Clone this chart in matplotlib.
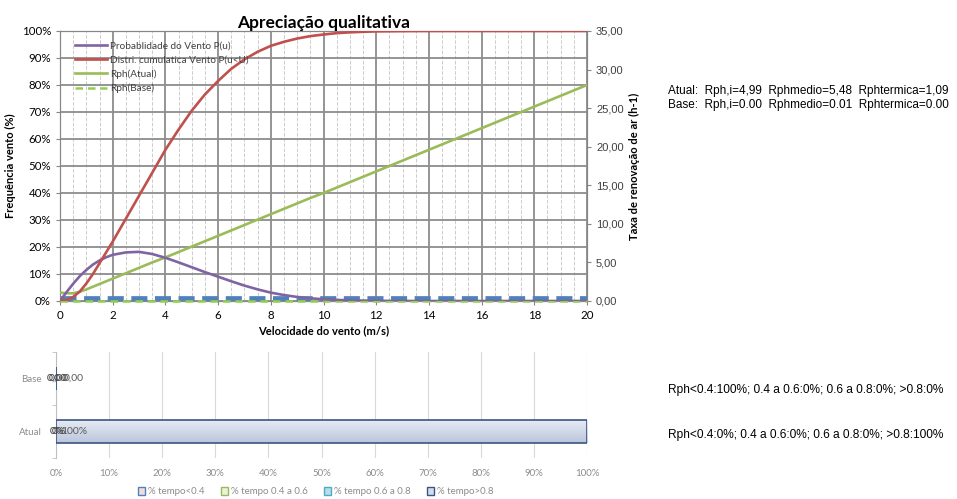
import numpy as np
import matplotlib
matplotlib.use("Agg")
import matplotlib.pyplot as plt
from matplotlib.ticker import FuncFormatter, MultipleLocator
from matplotlib.patches import Patch
from matplotlib.colors import LinearSegmentedColormap

plt.rcParams['font.family'] = ['Lato', 'DejaVu Sans']

# velocidade do vento (m/s)
vel = [0, 0.25, 0.5, 0.75, 1, 1.25, 1.5, 1.75, 2, 2.5, 3, 3.5, 4, 4.5, 5, 5.5, 6, 6.5, 7, 7.5,
       8, 8.5, 9, 9.5, 10, 10.5, 11, 11.5, 12, 13, 14, 15, 16, 17, 18, 19, 20]
# probabilidade do vento P(u) (%)
prob = [0, 3.3, 6.4, 9.2, 11.5, 13.5, 15.0, 16.2, 17.1, 18.0, 18.2, 17.4, 16.0, 14.3, 12.5, 10.7,
        9.0, 7.3, 5.7, 4.3, 3.1, 2.2, 1.5, 1.0, 0.65, 0.4, 0.25, 0.15, 0.08, 0.02,
        0, 0, 0, 0, 0, 0, 0]
# distribuicao cumulativa P(u<U) (%)
cdf = [0, 0.3, 1.5, 3.5, 6.5, 10, 14, 18, 22, 30.5, 39, 47.5, 56, 63.5, 70.5, 76.5, 81.5,
       86, 89.5, 92.3, 94.5, 96, 97.2, 98.1, 98.7, 99.2, 99.5, 99.7, 99.85, 99.95,
       100, 100, 100, 100, 100, 100, 100]
# taxa de renovacao de ar (h-1)
rph_atual = [1.09, 1.0, 1.0, 1.2, 1.5, 1.85, 2.2, 2.55, 2.9, 3.6, 4.3, 5.0, 5.65, 6.35, 7.05,
             7.75, 8.45, 9.15, 9.85, 10.55, 11.25, 11.95, 12.65, 13.35, 14.0, 14.7,
             15.4, 16.1, 16.8, 18.2, 19.6, 21.0, 22.4, 23.8, 25.2, 26.6, 28.0]
rph_base = [0.0] * len(vel)
rph_ref = 0.45

# grafico de barras (% do tempo)
cenarios = ["Atual", "Base"]
series_tempo = ["% tempo<0.4", "% tempo 0.4 a 0.6", "% tempo 0.6 a 0.8", "% tempo>0.8"]
tempo = {
    "% tempo<0.4": [0, 0],
    "% tempo 0.4 a 0.6": [0, 0],
    "% tempo 0.6 a 0.8": [0, 0],
    "% tempo>0.8": [100, 0],
}
cores_face = ["#f2dcdb", "#ebf1de", "#b7dee8", "#d3dcec"]
cores_borda = ["#4f81bd", "#9bbb59", "#4bacc6", "#3b5482"]

fig = plt.figure(figsize=(9.57, 4.99), dpi=100)

# ---- grafico superior ----
ax = fig.add_axes([0.0627, 0.3968, 0.5507, 0.5411])
ax2 = ax.twinx()
ax.set_zorder(ax2.get_zorder() + 1)
ax.patch.set_visible(False)

grid_c = "#8c8c8c"
ax.set_xlim(0, 20)
ax.set_ylim(0, 100)
ax2.set_ylim(0, 35)
ax.xaxis.set_major_locator(MultipleLocator(2))
ax.xaxis.set_minor_locator(MultipleLocator(0.5))
ax.yaxis.set_major_locator(MultipleLocator(10))
ax2.yaxis.set_major_locator(MultipleLocator(5))
ax.grid(which='major', color=grid_c, lw=1.3, zorder=0)
ax.grid(which='minor', axis='x', color="#cccccc", lw=0.7, ls='--', zorder=0)
ax.set_axisbelow(True)

ax.yaxis.set_major_formatter(FuncFormatter(lambda v, p: f"{v:.0f}%"))
ax2.yaxis.set_major_formatter(FuncFormatter(lambda v, p: f"{v:.2f}".replace(".", ",")))

l_ref = ax.axhline(rph_ref / 35 * 100, color="#4f81bd", lw=3.4, dashes=(3.4, 1.6), zorder=2)
l_base, = ax.plot(vel, [v / 35 * 100 for v in rph_base], color="#92d050", lw=1.8,
                  dashes=(3, 2), label="Rph(Base)", zorder=3, clip_on=False)
l_atual, = ax.plot(vel, [v / 35 * 100 for v in rph_atual], color="#9bbb59", lw=1.9,
                   label="Rph(Atual)", zorder=3)
l_prob, = ax.plot(vel, prob, color="#8064a2", lw=1.9, label="Probablidade do Vento P(u)", zorder=4)
l_cdf, = ax.plot(vel, cdf, color="#c0504d", lw=1.9, label="Distri. cumulatica Vento P(u<U)", zorder=4)

for a in (ax, ax2):
    for s in a.spines.values():
        s.set_color("#868686")
    a.tick_params(colors="#868686", labelcolor="black", labelsize=8.3, length=3)
ax.tick_params(which='minor', length=0)
ax2.tick_params(labelsize=8, labelfontfamily="Liberation Sans", labelcolor="#404040")

ax.set_xlabel("Velocidade do vento (m/s)", fontsize=8, fontweight='bold', labelpad=3)
ax.set_ylabel("Frequência vento (%)", fontsize=8, fontweight='bold', labelpad=4)
ax2.set_ylabel("Taxa de renovação de ar (h-1)", fontsize=8, fontweight='bold', labelpad=4)
ax.set_title("Apreciação qualitativa", fontsize=12.5, fontweight='bold', pad=2)

leg = ax.legend(handles=[l_prob, l_cdf, l_atual, l_base], loc='upper left',
                bbox_to_anchor=(0.012, 0.995), frameon=False, fontsize=7.2,
                handlelength=3.2, handletextpad=0.3, labelspacing=0.5)
for t in leg.get_texts():
    t.set_color("#404040")

fig.text(0.698, 0.817, "Atual:  Rph,i=4,99  Rphmedio=5,48  Rphtermica=1,09",
         fontsize=8.5, family="Liberation Sans", va='center')
fig.text(0.698, 0.789, "Base:  Rph,i=0.00  Rphmedio=0.01  Rphtermica=0.00",
         fontsize=8.5, family="Liberation Sans", va='center')

# ---- grafico inferior ----
bx = fig.add_axes([0.0585, 0.0822, 0.5549, 0.2124])
y = np.arange(len(cenarios))
esq = np.zeros(len(cenarios))
barras = []
for nome, fc, ec in zip(series_tempo, cores_face, cores_borda):
    vals = np.array(tempo[nome], dtype=float)
    b = bx.barh(y, vals, left=esq, height=0.45, color=fc, edgecolor=ec, lw=1.2, zorder=3)
    barras.append(b)
    esq = esq + vals

# degrade nas barras
grad = np.linspace(0, 1, 64).reshape(-1, 1)
cm = LinearSegmentedColormap.from_list("g", ["#bac6dc", "#e8ecf4"])
for b in barras:
    for r in b.patches:
        if r.get_width() > 0:
            x0, y0 = r.get_x(), r.get_y()
            im = bx.imshow(grad, cmap=cm, aspect='auto', origin='lower',
                           extent=[x0, x0 + r.get_width(), y0, y0 + r.get_height()], zorder=3.5)
            im.set_clip_path(r)
            r.set_facecolor("none")
            r.set_zorder(4)

bx.set_xlim(0, 100)
bx.set_ylim(-0.5, 1.5)
bx.xaxis.set_major_locator(MultipleLocator(10))
bx.xaxis.set_major_formatter(FuncFormatter(lambda v, p: f"{v:.0f}%"))
bx.set_yticks(y)
bx.set_yticklabels(cenarios)
bx.set_yticks([-0.5, 0.5, 1.5], minor=True)
bx.grid(axis='x', color="#d9d9d9", lw=0.8, zorder=0)
for k in ("top", "right", "bottom"):
    bx.spines[k].set_visible(False)
bx.spines["left"].set_color("#bfbfbf")
bx.tick_params(axis='x', length=0, labelsize=7, labelcolor="#8c8c8c", pad=8)
bx.tick_params(axis='y', which='major', length=0, labelsize=7, labelcolor="#8c8c8c", pad=10)
bx.tick_params(axis='y', which='minor', length=3, color="#bfbfbf")

# rotulos das barras
bx.text(0.1, 1, "0,00", fontsize=7.5, color="#404040", ha='center', va='center', zorder=5)
bx.text(0.5, 1, "0,00", fontsize=7.5, color="#404040", ha='center', va='center', zorder=5)
bx.text(3.3, 1, "0,00", fontsize=7.5, color="#595959", ha='center', va='center', zorder=5)
bx.text(0.2, 0, "0%", fontsize=7.5, color="#404040", ha='center', va='center', zorder=5)
bx.text(0.5, 0, "0%", fontsize=7.5, color="#404040", ha='center', va='center', zorder=5)
bx.text(3.5, 0, "100%", fontsize=7.5, color="#595959", ha='center', va='center', zorder=5)

handles = [Patch(facecolor=fc, edgecolor=ec, lw=1.0) for fc, ec in zip(cores_face, cores_borda)]
leg2 = fig.legend(handles, series_tempo, loc='lower center', bbox_to_anchor=(0.33, -0.012),
                  ncol=4, frameon=False, fontsize=7, handlelength=0.8, handleheight=0.8,
                  handletextpad=0.3, columnspacing=1.6)
for t in leg2.get_texts():
    t.set_color("#8c8c8c")

fig.text(0.698, 0.218, "Rph<0.4:100%; 0.4 a 0.6:0%; 0.6 a 0.8:0%; >0.8:0%",
         fontsize=8.6, family="Liberation Sans", va='center')
fig.text(0.698, 0.128, "Rph<0.4:0%; 0.4 a 0.6:0%; 0.6 a 0.8:0%; >0.8:100%",
         fontsize=8.6, family="Liberation Sans", va='center')

fig.savefig("out.png", dpi=100)
